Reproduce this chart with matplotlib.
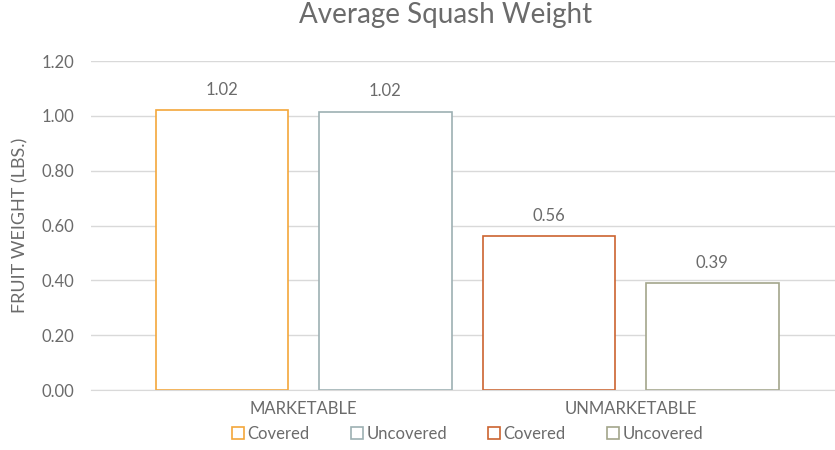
import numpy as np
import matplotlib.pyplot as plt
from matplotlib.patches import Patch

plt.rcParams['font.family'] = ['Lato', 'DejaVu Sans']

categories = ['MARKETABLE', 'UNMARKETABLE']
series = ['Covered', 'Uncovered', 'Covered', 'Uncovered']
values = [1.02, 1.015, 0.56, 0.39]
value_labels = ['1.02', '1.02', '0.56', '0.39']
group = [0, 0, 1, 1]
colors = ['#F3A73B', '#9DB0B3', '#CC6430', '#A3A68B']

txt = '#6b6b6b'
grid = '#d9d9d9'

fig = plt.figure(figsize=(8.35, 4.5), dpi=100)
ax = fig.add_axes([0.109, 0.1333, 0.891, 0.7311])

offsets = [-0.25, 0.25, -0.25, 0.25]
xs = np.array(group) + np.array(offsets)
bars = ax.bar(xs, values, width=0.405, facecolor='white', edgecolor=colors,
              linewidth=1.2, zorder=3)
for b, lab in zip(bars, value_labels):
    ax.annotate(lab, (b.get_x() + b.get_width() / 2, b.get_height()),
                xytext=(0, 9), textcoords='offset points', ha='center', va='bottom',
                fontsize=12, color=txt)

ax.set_xlim(-0.65, 1.625)
ax.set_ylim(0, 1.2)
ax.set_yticks(np.arange(0, 1.21, 0.2))
ax.set_yticklabels([f'{v:.2f}' for v in np.arange(0, 1.21, 0.2)])
ax.set_xticks([0, 1])
ax.set_xticklabels(categories)
ax.tick_params(axis='both', length=0, labelsize=12, colors=txt)
ax.tick_params(axis='y', pad=12)
ax.tick_params(axis='x', pad=8)
ax.yaxis.grid(True, color=grid, linewidth=1, zorder=0)
for s in ['top', 'right', 'left']:
    ax.spines[s].set_visible(False)
ax.spines['bottom'].set_color(grid)
ax.spines['bottom'].set_zorder(4)

ax.set_ylabel('FRUIT WEIGHT (LBS.)', fontsize=13, color=txt)
ax.yaxis.set_label_coords(-0.084, 0.5)
fig.suptitle('Average Squash Weight', fontsize=20, color=txt, x=0.534, y=0.995)

handles = [Patch(facecolor='white', edgecolor=c, linewidth=1.2) for c in colors]
fig.legend(handles, series, loc='lower center', ncol=4, frameon=False,
           bbox_to_anchor=(0.56, -0.015), fontsize=12, labelcolor=txt,
           handlelength=0.7, handleheight=0.7, handletextpad=0.2, columnspacing=2.5)

fig.savefig('out.png', dpi=100)
